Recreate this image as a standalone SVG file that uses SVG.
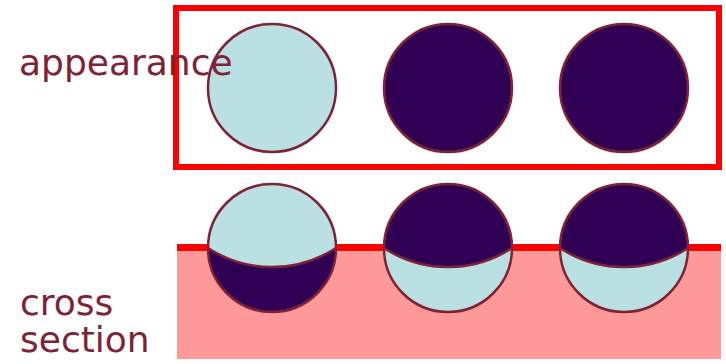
<svg xmlns="http://www.w3.org/2000/svg" width="726" height="364" viewBox="0 0 726 364">
<style>
.lt{fill:#BBE0E3}
.dk{fill:#300055}
.ol{fill:none;stroke:#7F2236;stroke-width:2.5}
.lbl{font-family:"DejaVu Sans",Verdana,sans-serif;font-size:36px;fill:#7F2236}
</style>
<rect width="726" height="364" fill="#ffffff"/>
<g id="appearance-frame">
<rect x="176" y="8" width="543" height="159" fill="none" stroke="#FF0000" stroke-width="6"/>
</g>
<g id="appearance-1">
<circle cx="272" cy="88" r="64" class="lt"/>
<circle cx="272" cy="88" r="64" class="ol"/>
</g>
<g id="appearance-2">
<circle cx="448" cy="88" r="64" class="dk"/>
<circle cx="448" cy="88" r="64" class="ol"/>
</g>
<g id="appearance-3">
<circle cx="624" cy="88" r="64" class="dk"/>
<circle cx="624" cy="88" r="64" class="ol"/>
</g>
<g id="label-appearance">
<text x="19" y="75" class="lbl">appearance</text>
</g>
<g id="substrate">
<rect x="177" y="248" width="544" height="111" fill="#FF9999"/>
<line x1="177" y1="247.5" x2="721" y2="247.5" stroke="#FF0000" stroke-width="7"/>
</g>
<g id="section-1">
<path d="M208 248 A64 64 0 0 1 336 248 A117 117 0 0 1 208 248 Z" class="lt"/>
<path d="M208 248 A117 117 0 0 0 336 248 A64 64 0 0 1 208 248 Z" class="dk"/>
<path d="M208 248 A117 117 0 0 0 336 248" class="ol"/>
<circle cx="272" cy="248" r="64" class="ol"/>
</g>
<g id="section-2">
<path d="M384 248 A64 64 0 0 1 512 248 A117 117 0 0 1 384 248 Z" class="dk"/>
<path d="M384 248 A117 117 0 0 0 512 248 A64 64 0 0 1 384 248 Z" class="lt"/>
<path d="M384 248 A117 117 0 0 0 512 248" class="ol"/>
<circle cx="448" cy="248" r="64" class="ol"/>
</g>
<g id="section-3">
<path d="M560 248 A64 64 0 0 1 688 248 A117 117 0 0 1 560 248 Z" class="dk"/>
<path d="M560 248 A117 117 0 0 0 688 248 A64 64 0 0 1 560 248 Z" class="lt"/>
<path d="M560 248 A117 117 0 0 0 688 248" class="ol"/>
<circle cx="624" cy="248" r="64" class="ol"/>
</g>
<g id="label-cross-section">
<text x="20" y="315" class="lbl">cross</text>
<text x="20" y="352" class="lbl">section</text>
</g>
</svg>
